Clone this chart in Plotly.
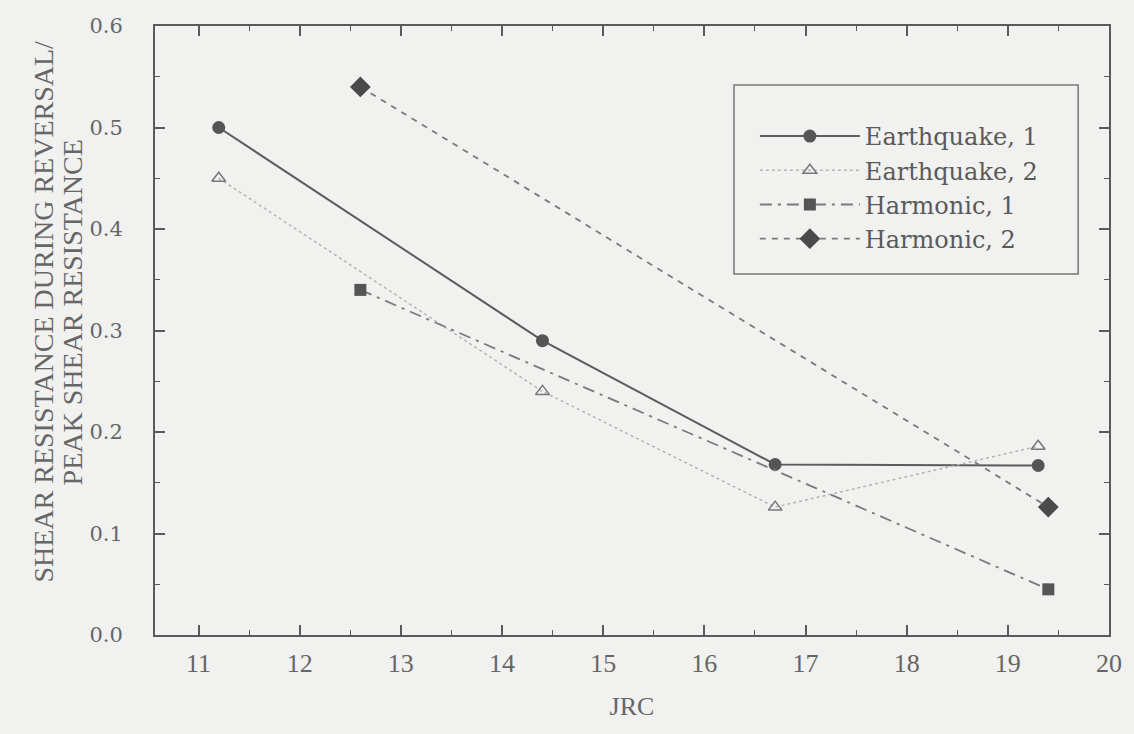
import plotly.graph_objects as go

# Data
eq1_x = [11.2, 14.4, 16.7, 19.3]
eq1_y = [0.50, 0.29, 0.168, 0.167]
eq2_x = [11.2, 14.4, 16.7, 19.3]
eq2_y = [0.45, 0.24, 0.126, 0.186]
har1_x = [12.6, 19.4]
har1_y = [0.34, 0.045]
har2_x = [12.6, 19.4]
har2_y = [0.54, 0.126]

x_ticks = [11, 12, 13, 14, 15, 16, 17, 18, 19, 20]
y_ticks = [0.0, 0.1, 0.2, 0.3, 0.4, 0.5, 0.6]
y_tick_text = ["0.0", "0.1", "0.2", "0.3", "0.4", "0.5", "0.6"]
y_title_lines = ["SHEAR RESISTANCE DURING REVERSAL/", "PEAK SHEAR RESISTANCE"]

TIMES = "Liberation Serif, Times New Roman, serif"
WIDE = "DejaVu Serif, serif"
BG = "#f1f1ef"
INK = "#5a5a5a"
TXT = "#666666"

fig = go.Figure()
fig.add_trace(go.Scatter(
    x=eq1_x, y=eq1_y, name="Earthquake, 1", mode="lines+markers",
    line=dict(color="#5c5c5c", width=2, dash="solid"),
    marker=dict(symbol="circle", size=13, color="#555555"),
))
fig.add_trace(go.Scatter(
    x=eq2_x, y=eq2_y, name="Earthquake, 2", mode="lines+markers",
    line=dict(color="#b4b4b4", width=1.5, dash="dot"),
    marker=dict(symbol="triangle-up-open", size=12, color="#777777",
                line=dict(width=1.5, color="#777777")),
))
fig.add_trace(go.Scatter(
    x=har1_x, y=har1_y, name="Harmonic, 1", mode="lines+markers",
    line=dict(color="#7a7a7a", width=1.8, dash="12px,6px,3px,6px"),
    marker=dict(symbol="square", size=12, color="#555555"),
))
fig.add_trace(go.Scatter(
    x=har2_x, y=har2_y, name="Harmonic, 2", mode="lines+markers",
    line=dict(color="#7a7a7a", width=1.8, dash="6px,6px"),
    marker=dict(symbol="diamond", size=16, color="#4a4a4a"),
))

axis_common = dict(
    showgrid=False, zeroline=False, showline=True, linecolor=INK, linewidth=2,
    mirror="allticks", ticks="inside", ticklen=10, tickwidth=1.5, tickcolor=INK,
)

fig.update_xaxes(
    range=[10.57, 20], tickvals=x_ticks, ticktext=[str(v) for v in x_ticks],
    tickfont=dict(family=TIMES, size=26, color=TXT), ticklabelstandoff=4,
    minor=dict(dtick=0.5, tick0=10.5, ticks="inside", ticklen=5, tickcolor=INK, tickwidth=1),
    title=dict(text="JRC", font=dict(family=TIMES, size=26, color=TXT), standoff=20),
    **axis_common,
)
fig.update_yaxes(
    range=[0, 0.6], tickvals=y_ticks, ticktext=y_tick_text,
    tickfont=dict(family=WIDE, size=21, color=TXT), ticklabelstandoff=26,
    minor=dict(dtick=0.05, tick0=0, ticks="inside", ticklen=5, tickcolor=INK, tickwidth=1),
    **axis_common,
)

# Two-line y-axis title as rotated annotations
for i, line in enumerate(y_title_lines):
    fig.add_annotation(
        text=line, xref="paper", yref="paper", x=(42 + 30 * i - 155) / 959,
        y=(635 - 312) / 609, xanchor="center", yanchor="middle",
        textangle=-90, showarrow=False,
        font=dict(family=TIMES, size=28, color=TXT),
    )

fig.add_shape(type="rect", xref="paper", yref="paper",
              x0=(737 - 155) / 959, x1=(1083 - 155) / 959,
              y0=(635 - 274) / 609, y1=(635 - 85) / 609,
              line=dict(color="#777777", width=1.5), fillcolor="rgba(0,0,0,0)")

fig.update_layout(
    width=1134, height=734,
    margin=dict(l=155, r=20, t=26, b=99),
    paper_bgcolor=BG, plot_bgcolor=BG,
    font=dict(family=TIMES, color=TXT),
    legend=dict(
        x=(758 - 155) / 959, y=(635 - 114) / 609, xanchor="left", yanchor="top",
        bgcolor="rgba(0,0,0,0)", borderwidth=0,
        font=dict(family=WIDE, size=24, color="#5a5a5a"),
        itemwidth=100, tracegroupgap=0,
    ),
    showlegend=True,
)

fig.write_html("out.html")
